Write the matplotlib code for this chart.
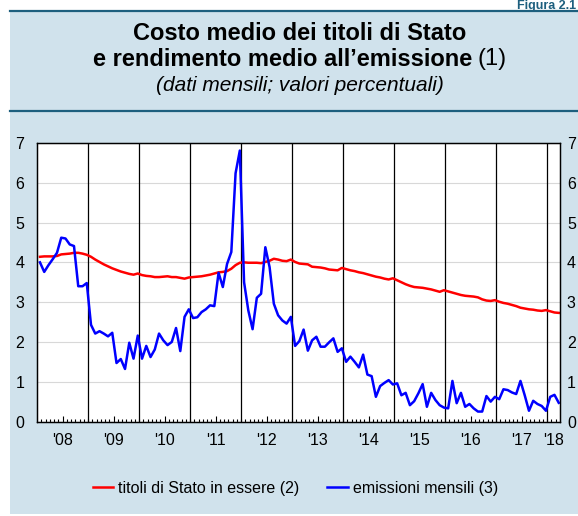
import numpy as np
import matplotlib
matplotlib.use('Agg')
import matplotlib.pyplot as plt
from matplotlib.patches import Rectangle
from matplotlib.lines import Line2D

plt.rcParams['font.family'] = ['Liberation Sans', 'DejaVu Sans']

# dati mensili, gennaio 2008 - marzo 2018
anni = ["'08", "'09", "'10", "'11", "'12", "'13", "'14", "'15", "'16", "'17", "'18"]

titoli_in_essere = [
    4.14, 4.15, 4.15, 4.15, 4.16, 4.20, 4.21, 4.22, 4.24, 4.24, 4.22, 4.19,  # 2008
    4.14, 4.07, 4.01, 3.95, 3.90, 3.85, 3.81, 3.77, 3.74, 3.71, 3.69, 3.72,  # 2009
    3.68, 3.66, 3.65, 3.63, 3.63, 3.64, 3.65, 3.63, 3.63, 3.61, 3.59, 3.62,  # 2010
    3.63, 3.64, 3.65, 3.67, 3.69, 3.72, 3.75, 3.76, 3.78, 3.84, 3.93, 3.99,  # 2011
    4.00, 3.99, 3.99, 3.99, 3.98, 4.01, 4.04, 4.09, 4.07, 4.04, 4.03, 4.07,  # 2012
    4.01, 3.97, 3.96, 3.95, 3.89, 3.88, 3.87, 3.85, 3.82, 3.81, 3.80, 3.86,  # 2013
    3.83, 3.80, 3.78, 3.75, 3.73, 3.70, 3.67, 3.64, 3.62, 3.59, 3.57, 3.60,  # 2014
    3.55, 3.50, 3.45, 3.41, 3.38, 3.37, 3.36, 3.34, 3.32, 3.29, 3.26, 3.30,  # 2015
    3.27, 3.24, 3.21, 3.18, 3.16, 3.15, 3.14, 3.12, 3.07, 3.04, 3.03, 3.05,  # 2016
    3.01, 2.98, 2.96, 2.93, 2.90, 2.86, 2.84, 2.82, 2.81, 2.79, 2.78, 2.80,  # 2017
    2.77, 2.74, 2.73,                                                        # 2018
]

emissioni_mensili = [
    4.00, 3.76, 3.93, 4.08, 4.24, 4.62, 4.60, 4.45, 4.41, 3.40, 3.40, 3.48,  # 2008
    2.43, 2.21, 2.27, 2.21, 2.14, 2.23, 1.47, 1.57, 1.32, 1.98, 1.58, 2.16,  # 2009
    1.58, 1.90, 1.62, 1.81, 2.21, 2.04, 1.92, 2.00, 2.35, 1.77, 2.63, 2.82,  # 2010
    2.60, 2.62, 2.75, 2.82, 2.92, 2.90, 3.74, 3.38, 3.96, 4.26, 6.24, 6.81,  # 2011
    3.50, 2.79, 2.32, 3.11, 3.21, 4.38, 3.88, 2.96, 2.67, 2.54, 2.46, 2.63,  # 2012
    1.90, 2.02, 2.31, 1.78, 2.04, 2.13, 1.88, 1.88, 1.99, 2.09, 1.75, 1.84,  # 2013
    1.50, 1.63, 1.50, 1.36, 1.68, 1.18, 1.14, 0.62, 0.89, 0.97, 1.04, 0.93,  # 2014
    0.96, 0.66, 0.72, 0.41, 0.51, 0.71, 0.94, 0.37, 0.72, 0.54, 0.41, 0.35,  # 2015
    0.33, 1.02, 0.46, 0.72, 0.37, 0.44, 0.33, 0.25, 0.25, 0.64, 0.50, 0.62,  # 2016
    0.56, 0.81, 0.79, 0.73, 0.69, 1.02, 0.66, 0.27, 0.52, 0.44, 0.39, 0.27,  # 2017
    0.62, 0.67, 0.47,                                                        # 2018
]

mesi = np.arange(len(titoli_in_essere)) + 0.7  # posizione del dato nel mese

W, H = 578, 516
fig = plt.figure(figsize=(W / 100, H / 100), dpi=100)
fig.patch.set_facecolor('white')


def fx(px):
    return px / W


def fy(py):
    return 1 - py / H


# riquadro azzurro e filetti
fig.patches.append(Rectangle((fx(10), fy(514)), 1 - fx(10), fy(10) - fy(514),
                             transform=fig.transFigure, facecolor='#d0e2ec',
                             edgecolor='none', zorder=-10))
for yy in (11, 111):
    fig.add_artist(Line2D([fx(10), 1], [fy(yy), fy(yy)], color='#1d5f7e', lw=1.6))

fig.text(fx(576), fy(9), 'Figura 2.1', fontsize=9, fontweight='bold',
         color='#1d5f7e', va='baseline', ha='right')

# titolo
fig.text(fx(300), fy(40.5), 'Costo medio dei titoli di Stato', fontsize=17,
         fontweight='bold', ha='center', va='baseline')
r = fig.canvas.get_renderer()
tb = fig.text(0, fy(65.5), 'e rendimento medio all\u2019emissione', fontsize=17,
              fontweight='bold', va='baseline')
tn = fig.text(0, fy(65.5), '(1)', fontsize=17, va='baseline')
wb = tb.get_window_extent(r).width
wn = tn.get_window_extent(r).width
gap = 5
x0 = 300 - (wb + gap + wn) / 2
tb.set_x(fx(x0))
tn.set_x(fx(x0 + wb + gap))
fig.text(fx(300), fy(91), '(dati mensili; valori percentuali)', fontsize=15,
         style='italic', ha='center', va='baseline')

# grafico
ax = fig.add_axes([fx(37), fy(421.5), fx(560) - fx(37), fy(143) - fy(421.5)])
ax.set_facecolor('white')
ax.set_xlim(0, 123)
ax.set_ylim(0, 7)
ax.set_yticks(range(0, 8))
ax.yaxis.grid(True, color='#d8d8d8', lw=0.8)
ax.set_axisbelow(True)

for k in range(1, 11):
    ax.axvline(12 * k, color='black', lw=0.9, zorder=1.5)

ax.plot(mesi, titoli_in_essere, color='#ff0000', lw=1.8, zorder=2,
        label='titoli di Stato in essere (2)')
ax.plot(mesi, emissioni_mensili, color='#0000ff', lw=1.8, zorder=2.1,
        label='emissioni mensili (3)')

ax.set_xticks([6 + 12 * k for k in range(10)] + [121.5])
ax.set_xticklabels(anni)
ax.set_xticks(np.arange(1, 123), minor=True)
ax.tick_params(axis='x', which='major', direction='in', length=4, width=0.8,
               pad=8, labelsize=11.5)
ax.tick_params(axis='x', which='minor', direction='in', length=2.5, width=0.8)
ax.xaxis.get_major_ticks()[-1].tick1line.set_visible(False)
ax.tick_params(axis='y', length=0, pad=9, labelsize=11.5)

# scala di destra (ripete quella di sinistra)
ax2 = ax.twinx()
ax2.set_ylim(ax.get_ylim())
ax2.set_yticks(range(0, 8))
ax2.tick_params(axis='y', length=0, pad=5, labelsize=11.5)

for a in (ax, ax2):
    for s in a.spines.values():
        s.set_color('black')
        s.set_linewidth(0.9)

h, l = ax.get_legend_handles_labels()
fig.legend(h, l, loc='center', bbox_to_anchor=(fx(295.5), fy(488)), ncol=2,
           frameon=False, fontsize=11.5, handlelength=1.3, handletextpad=0.3,
           columnspacing=1.75)

fig.savefig('out.png', dpi=100)
